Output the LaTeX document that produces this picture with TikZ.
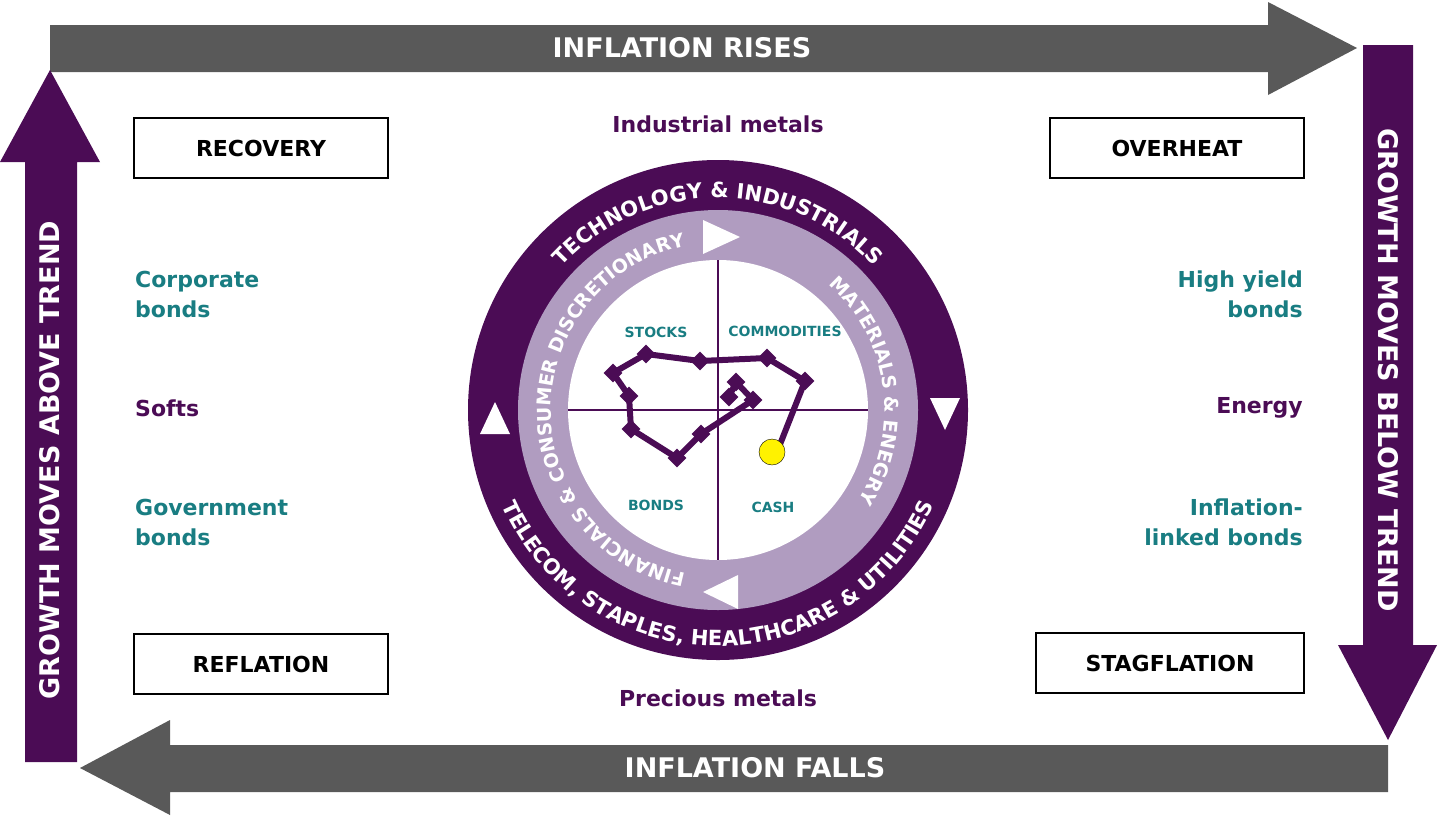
\documentclass[tikz,border=0pt]{standalone}
\usepackage{fontspec}
\setmainfont{DejaVu Sans}
\usetikzlibrary{shapes.geometric, decorations.text}
\definecolor{plum}{RGB}{75,12,85}
\definecolor{lilac}{RGB}{176,156,192}
\definecolor{teal}{RGB}{25,125,130}
\definecolor{slate}{RGB}{89,89,89}
\tikzstyle{phase} = [rectangle, draw=black, line width=2.5pt, fill=white, minimum width=254pt, minimum height=60pt, font=\fontsize{22}{22}\selectfont\bfseries]
\tikzstyle{asset} = [font=\fontsize{22}{30}\selectfont\bfseries, inner sep=0pt]
\tikzstyle{quad} = [font=\fontsize{14}{14}\selectfont\bfseries, text=teal]
\tikzstyle{band} = [font=\fontsize{27}{27}\selectfont\bfseries, text=white]
\tikzstyle{waypoint} = [diamond, fill=plum, minimum size=19pt, inner sep=0pt]
\tikzstyle{tri} = [fill=white]

\begin{document}
\begin{tikzpicture}[x=1pt, y=1pt]
        \useasboundingbox (0,0) rectangle (1439,-817);
        % Arrows round the edge
        \fill[slate] (50,-25) -- (1268,-25) -- (1268,-2) -- (1357,-48) -- (1268,-95) -- (1268,-72) -- (50,-72) -- cycle;
        \fill[plum] (1363,-45) -- (1413,-45) -- (1413,-645) -- (1437,-645) -- (1388,-740) -- (1338,-645) -- (1363,-645) -- cycle;
        \fill[slate] (1388,-745) -- (1388,-792) -- (170,-792) -- (170,-815) -- (80,-768) -- (170,-720) -- (170,-745) -- cycle;
        \fill[plum] (77,-762) -- (25,-762) -- (25,-162) -- (0,-162) -- (50,-70) -- (100,-162) -- (77,-162) -- cycle;
        \node (rises) [band] at (682,-48) {INFLATION RISES};
        \node (falls) [band] at (755,-768) {INFLATION FALLS};
        \node (above) [band, rotate=90] at (50,-460) {GROWTH MOVES ABOVE TREND};
        \node (below) [band, rotate=-90] at (1388,-370) {GROWTH MOVES BELOW TREND};

        % Phases
        \node (recovery) [phase] at (261,-148) {RECOVERY};
        \node (overheat) [phase] at (1177,-148) {OVERHEAT};
        \node (reflation) [phase] at (261,-664) {REFLATION};
        \node (stagflation) [phase, minimum width=268pt] at (1170,-663) {STAGFLATION};

        % Assets
        \node (metals) [asset, text=plum] at (718,-124) {Industrial metals};
        \node (precious) [asset, text=plum] at (718,-698) {Precious metals};
        \node (corp) [asset, text=teal, anchor=west, align=left] at (135,-294) {Corporate\\bonds};
        \node (softs) [asset, text=plum, anchor=west] at (135,-408) {Softs};
        \node (govt) [asset, text=teal, anchor=west, align=left] at (135,-522) {Government\\bonds};
        \node (hy) [asset, text=teal, anchor=east, align=right] at (1303,-294) {High yield\\bonds};
        \node (energy) [asset, text=plum, anchor=east] at (1303,-408) {Energy};
        \node (linkers) [asset, text=teal, anchor=east, align=right] at (1303,-522) {Inflation-\\linked bonds};

        % Clock
        \coordinate (c) at (718,-410);
        \fill[plum] (c) circle (250);
        \fill[lilac] (c) circle (200);
        \fill[white] (c) circle (150);
        \draw[plum, line width=2.5pt] (568,-410) -- (868,-410) (718,-260) -- (718,-560);
        \path[decorate, decoration={text along path, text align=center, text color=white,
            text={|\fontsize{21}{21}\selectfont\bfseries|TECHNOLOGY {\&} INDUSTRIALS}}]
            (c) ++(158:212) arc[start angle=158, end angle=22, radius=212];
        \path[decorate, decoration={text along path, text align=center, text color=white,
            text={|\fontsize{21}{21}\selectfont\bfseries|TELECOM, STAPLES, HEALTHCARE {\&} UTILITIES}}]
            (c) ++(198:236) arc[start angle=198, end angle=342, radius=236];
        \path[decorate, decoration={text along path, text align=center, text color=white,
            text={|\fontsize{19}{19}\selectfont\bfseries|FINANCIALS {\&} CONSUMER DISCRETIONARY}}]
            (c) ++(266:167) arc[start angle=266, end angle=94, radius=167];
        \path[decorate, decoration={text along path, text align=center, text color=white,
            text={|\fontsize{19}{19}\selectfont\bfseries|MATERIALS {\&} ENEGRY}}]
            (c) ++(78:167) arc[start angle=78, end angle=-62, radius=167];
        \fill[tri] (480,-434) -- (510,-434) -- (495,-402) -- cycle;
        \fill[tri] (930,-398) -- (960,-398) -- (945,-430) -- cycle;
        \fill[tri] (703,-220) -- (703,-254) -- (740,-237) -- cycle;
        \fill[tri] (738,-575) -- (738,-609) -- (703,-592) -- cycle;
        \node (stocks) [quad] at (656,-332) {STOCKS};
        \node (comm) [quad] at (785,-331) {COMMODITIES};
        \node (bonds) [quad] at (656,-505) {BONDS};
        \node (cash) [quad] at (773,-507) {CASH};

        % Cycle track
        \draw[plum, line width=6pt, line join=round] (777,-452) -- (805,-381) -- (767,-358) -- (700,-361) -- (646,-354) -- (613,-373) -- (629,-396) -- (631,-429) -- (677,-458) -- (701,-434) -- (753,-400) -- (736,-382) -- (729,-397);
        \foreach \p in {(805,-381), (767,-358), (700,-361), (646,-354), (613,-373), (629,-396), (631,-429), (677,-458), (701,-434), (753,-400), (736,-382), (729,-397)}
            \node[waypoint] at \p {};
        \node (now) [circle, fill=yellow, draw=black, minimum size=26pt, inner sep=0pt] at (772,-452) {};
    \end{tikzpicture}
\end{document}
